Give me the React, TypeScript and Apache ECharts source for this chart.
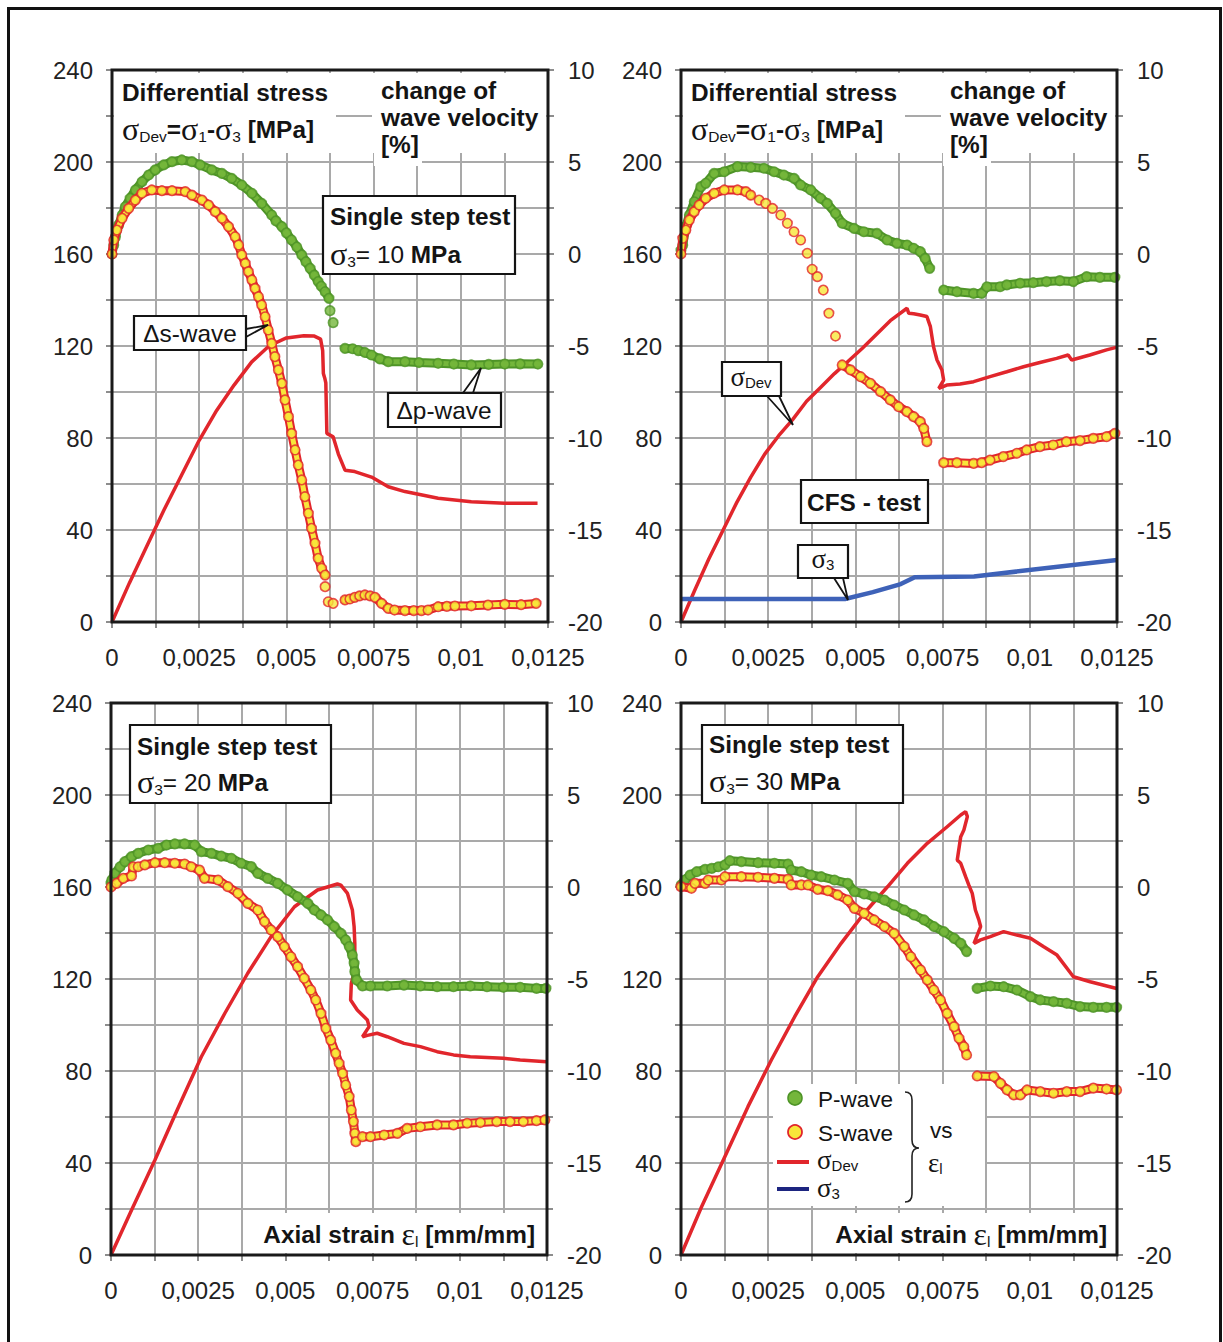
import React, { useEffect, useRef } from 'react';
import * as echarts from 'echarts';

// ---------- tick labels ----------
const xTickLabels = ['0', '0,0025', '0,005', '0,0075', '0,01', '0,0125'];
const leftTickLabels = ['0', '40', '80', '120', '160', '200', '240'];
const rightTickLabels = ['-20', '-15', '-10', '-5', '0', '5', '10'];

// ---------- Panel 1 : single step test, sigma3 = 10 MPa ----------
const sigDev1 = [[0,0],[0.0005,17],[0.001,33],[0.0015,49],[0.002,64],[0.0025,79],[0.003,92],[0.0035,103],[0.004,113],[0.0045,120],[0.005,123.5],[0.0055,124.5],[0.0058,124.3],[0.00598,123],[0.00604,118],[0.00606,108],[0.0061,106],[0.00613,104],[0.00616,82],[0.00634,80.5],[0.00649,73],[0.00668,66],[0.00696,65.4],[0.00744,63],[0.00792,58.8],[0.0084,56.7],[0.00935,53.8],[0.0103,52.3],[0.01126,51.6],[0.0122,51.6]];
const pWave1A = [[0,0],[0.00005,0.49],[0.0001,0.94],[0.00019,1.58],[0.00029,2.12],[0.00038,2.57],[0.00052,3.03],[0.00067,3.48],[0.00086,3.93],[0.00105,4.29],[0.00124,4.57],[0.00148,4.84],[0.00172,5.02],[0.002,5.11],[0.00229,5.02],[0.00253,4.84],[0.00286,4.57],[0.00315,4.38],[0.00343,4.11],[0.00372,3.75],[0.00401,3.3],[0.00429,2.75],[0.00458,2.12],[0.0047,1.8],[0.00487,1.49],[0.005,1.15],[0.00515,0.76],[0.0053,0.38],[0.00544,-0.05],[0.00556,-0.42],[0.00568,-0.78],[0.0058,-1.15],[0.00591,-1.5],[0.006,-1.75],[0.00611,-2.05],[0.00622,-2.41]];
const pWave1Iso = [[0.00625,-3.08],[0.00634,-3.73]];
const pWave1B = [[0.00668,-5.13],[0.0069,-5.15],[0.00706,-5.25],[0.00725,-5.35],[0.00744,-5.49],[0.00768,-5.7],[0.00792,-5.85],[0.0084,-5.85],[0.0088,-5.9],[0.00935,-5.94],[0.0098,-5.98],[0.0103,-6.03],[0.0108,-6.0],[0.01126,-5.98],[0.0117,-5.97],[0.01221,-5.98]];
const sWave1A = [[0,0],[0.00005,0.76],[0.00014,1.3],[0.00029,1.94],[0.00048,2.48],[0.00067,2.93],[0.00086,3.3],[0.00114,3.48],[0.00143,3.44],[0.00172,3.44],[0.0021,3.39],[0.00229,3.2],[0.00258,2.93],[0.00277,2.66],[0.00296,2.3],[0.00315,1.94],[0.00334,1.49],[0.00353,0.94],[0.00363,0.49],[0.00372,-0.05],[0.00382,-0.51],[0.00391,-0.96],[0.00401,-1.41],[0.0041,-1.87],[0.0042,-2.32],[0.00429,-2.77],[0.00439,-3.41],[0.00448,-4.13],[0.00458,-4.86],[0.00467,-5.58],[0.00477,-6.3],[0.00487,-7.03],[0.00496,-7.93],[0.00506,-8.84],[0.00515,-9.75],[0.00525,-10.65],[0.00534,-11.47],[0.00544,-12.28],[0.00553,-13.19],[0.00563,-14.09],[0.00572,-14.91],[0.00582,-15.72],[0.00591,-16.54],[0.00601,-17.08],[0.00611,-17.45]];
const sWave1Iso = [[0.00611,-18.08],[0.0062,-18.9],[0.00634,-18.99]];
const sWave1B = [[0.00668,-18.8],[0.00682,-18.75],[0.00696,-18.66],[0.0071,-18.58],[0.00725,-18.53],[0.0074,-18.58],[0.00754,-18.66],[0.00773,-18.99],[0.00792,-19.26],[0.0081,-19.35],[0.0084,-19.38],[0.00865,-19.38],[0.00887,-19.38],[0.00906,-19.35],[0.00935,-19.17],[0.0096,-19.15],[0.00983,-19.13],[0.0103,-19.12],[0.01078,-19.08],[0.01126,-19.04],[0.01173,-19.06],[0.01216,-18.99]];

// ---------- Panel 2 : CFS test ----------
const sigDev2 = [[0,0],[0.0004,14],[0.0008,27.5],[0.00124,41],[0.0016,52],[0.002,63],[0.0024,73],[0.0028,81],[0.0032,88],[0.0036,96],[0.004,102],[0.0044,108],[0.0048,113.5],[0.0052,119],[0.0056,125],[0.006,131],[0.00648,136.4],[0.00653,134.2],[0.00667,134],[0.00686,133.5],[0.00705,132.8],[0.00715,128.4],[0.00724,119.7],[0.00734,113.9],[0.00748,109.6],[0.00753,105.2],[0.00739,101.6],[0.00762,103],[0.008,103.5],[0.00839,104.5],[0.00886,106.7],[0.00934,108.8],[0.00982,111],[0.01029,112.8],[0.01077,114.6],[0.0111,116.1],[0.0112,113.9],[0.01172,116.1],[0.0122,118.3],[0.01248,119.4]];
const sig3_2 = [[0,10],[0.0047,10],[0.0055,13],[0.0063,16.5],[0.0067,19.5],[0.0084,19.8],[0.0125,27]];
const pWave2A = [[0,0.2],[0.00005,0.49],[0.00014,1.5],[0.00024,2.12],[0.00038,2.84],[0.00057,3.66],[0.00071,3.84],[0.00095,4.38],[0.00124,4.47],[0.00162,4.75],[0.002,4.71],[0.00238,4.66],[0.00267,4.47],[0.00295,4.29],[0.00324,4.11],[0.00343,3.75],[0.00372,3.48],[0.004,3.03],[0.00419,2.75],[0.00443,2.21],[0.00462,1.67],[0.00496,1.39],[0.00524,1.21],[0.00562,1.12],[0.00591,0.76],[0.00619,0.58],[0.00648,0.49],[0.00667,0.31],[0.00686,0.13],[0.007,-0.24],[0.00713,-0.78]];
const pWave2B = [[0.00753,-1.96],[0.00791,-2.05],[0.00839,-2.14],[0.00862,-2.14],[0.00877,-1.78],[0.00915,-1.78],[0.00934,-1.68],[0.00972,-1.59],[0.0101,-1.56],[0.01048,-1.5],[0.01086,-1.45],[0.01125,-1.5],[0.01163,-1.23],[0.01201,-1.27],[0.01244,-1.27]];
const sWave2A = [[0,0],[0.00005,0.85],[0.00014,1.3],[0.00024,1.85],[0.00038,2.3],[0.00052,2.66],[0.00071,3.03],[0.00095,3.3],[0.00124,3.48],[0.00162,3.48],[0.00186,3.39],[0.002,3.2]];
const sWave2Dots = [[0.00224,2.93],[0.00243,2.75],[0.00262,2.48],[0.00286,2.12],[0.00305,1.67],[0.00324,1.21],[0.00343,0.76],[0.00362,0.04],[0.00376,-0.83],[0.00391,-1.23],[0.00408,-1.96],[0.00424,-3.22],[0.00443,-4.46]];
const sWave2B = [[0.00462,-6.03],[0.00486,-6.3],[0.00515,-6.67],[0.00543,-7.03],[0.00572,-7.48],[0.006,-7.93],[0.00624,-8.3],[0.00648,-8.57],[0.00667,-8.84],[0.00686,-9.11],[0.00696,-9.48],[0.00705,-10.2]];
const sWave2C = [[0.00753,-11.34],[0.00791,-11.34],[0.00839,-11.38],[0.00862,-11.34],[0.00886,-11.2],[0.00924,-11.01],[0.00963,-10.83],[0.00991,-10.65],[0.01029,-10.47],[0.01067,-10.38],[0.01105,-10.2],[0.01144,-10.14],[0.01182,-10.02],[0.0122,-9.93],[0.01244,-9.75]];

// ---------- Panel 3 : single step test, sigma3 = 20 MPa ----------
const sigDev3 = [[0,0],[0.00059,19.6],[0.00126,41.3],[0.00192,63.8],[0.00259,86.2],[0.00326,105],[0.00392,122.5],[0.00459,138.4],[0.00526,151.4],[0.00592,158.7],[0.00649,161.3],[0.00659,160.8],[0.00678,157.2],[0.00692,150],[0.00697,142.8],[0.00699,135.5],[0.00699,123.9],[0.00689,118.1],[0.00687,110.9],[0.00706,106.5],[0.00735,102.2],[0.0074,99.3],[0.00721,94.9],[0.00735,95.5],[0.00763,96.4],[0.00792,94.9],[0.0084,92],[0.00887,90.6],[0.00935,88.4],[0.00982,87],[0.0103,86.2],[0.01078,85.9],[0.01125,85.5],[0.01173,84.8],[0.01249,84]];
const pWave3 = [[0,0.2],[0.00002,0.38],[0.00011,0.74],[0.00026,1.1],[0.0004,1.38],[0.00059,1.65],[0.00078,1.83],[0.00107,2.01],[0.00135,2.1],[0.00159,2.28],[0.00183,2.34],[0.00211,2.34],[0.0024,2.28],[0.00259,1.92],[0.00288,1.83],[0.00316,1.68],[0.00345,1.56],[0.00373,1.29],[0.00402,1.11],[0.00421,0.74],[0.00449,0.47],[0.00478,0.2],[0.00506,-0.16],[0.00535,-0.53],[0.00564,-0.89],[0.00583,-1.25],[0.00602,-1.52],[0.00621,-1.79],[0.0064,-2.15],[0.00659,-2.52],[0.00673,-2.88],[0.00683,-3.24],[0.00692,-3.7],[0.00697,-4.15],[0.00699,-4.6],[0.00704,-5.05],[0.00721,-5.38],[0.00744,-5.38],[0.00792,-5.38],[0.0084,-5.33],[0.00887,-5.38],[0.00935,-5.42],[0.00982,-5.42],[0.0103,-5.38],[0.01078,-5.42],[0.01125,-5.45],[0.01173,-5.45],[0.0122,-5.51],[0.01247,-5.51]];
const sWave3A = [[0,0],[0.00016,0.2],[0.00035,0.47],[0.00059,0.6],[0.00064,1.1],[0.00078,1.1],[0.00097,1.2],[0.00126,1.32],[0.00154,1.32],[0.00183,1.29],[0.00211,1.25],[0.0023,1.1],[0.00254,0.92],[0.00268,0.47],[0.00307,0.38],[0.00335,0.02],[0.00364,-0.34],[0.00392,-0.89],[0.00421,-1.25],[0.0044,-1.88],[0.00459,-2.34],[0.00478,-2.7],[0.00497,-3.24],[0.00516,-3.79],[0.00535,-4.33],[0.00554,-4.96],[0.00573,-5.6],[0.00587,-6.14],[0.00602,-6.87],[0.00616,-7.68],[0.0063,-8.32],[0.00644,-9.04],[0.00654,-9.58],[0.00664,-10.13],[0.00673,-10.76],[0.00683,-11.39],[0.00689,-12.12],[0.00695,-12.75],[0.00699,-13.39],[0.00702,-13.84]];
const sWave3B = [[0.00721,-13.57],[0.00744,-13.57],[0.00783,-13.48],[0.00821,-13.39],[0.00849,-13.12],[0.00887,-13.03],[0.00935,-12.93],[0.00982,-12.93],[0.01021,-12.84],[0.01059,-12.8],[0.01106,-12.75],[0.01144,-12.75],[0.01182,-12.75],[0.0122,-12.7],[0.01244,-12.66]];

// ---------- Panel 4 : single step test, sigma3 = 30 MPa ----------
const sigDev4 = [[0,0],[0.00059,21],[0.00126,42.8],[0.00192,64.5],[0.00259,84.8],[0.00326,103.6],[0.00392,121],[0.00459,135.5],[0.00525,148.6],[0.00592,160.1],[0.00649,170.3],[0.00706,179],[0.00763,186.2],[0.00802,191.3],[0.00816,192.8],[0.00821,190.6],[0.00811,184.8],[0.00802,181.9],[0.00792,171.7],[0.00802,170.3],[0.00816,164.5],[0.00825,160.9],[0.00835,157.2],[0.00844,150],[0.00854,145.7],[0.00859,142.8],[0.0084,135.5],[0.00859,137],[0.00887,138.4],[0.00925,140.6],[0.00963,139.1],[0.01002,137.7],[0.0104,134],[0.01078,130.4],[0.01125,121],[0.01173,118.8],[0.01249,115.9]];
const pWave4A = [[0,0.1],[0.00011,0.38],[0.00026,0.65],[0.00045,0.83],[0.00069,0.96],[0.00088,1.01],[0.00107,1.1],[0.00126,1.2],[0.0014,1.43],[0.00173,1.38],[0.00221,1.32],[0.00268,1.29],[0.00307,1.25],[0.00316,0.92],[0.00345,0.83],[0.00373,0.65],[0.00402,0.56],[0.0044,0.38],[0.00478,0.2],[0.00497,-0.25],[0.00525,-0.38],[0.00554,-0.53],[0.00583,-0.71],[0.00611,-0.98],[0.0064,-1.25],[0.00668,-1.52],[0.00697,-1.79],[0.00725,-2.15],[0.00754,-2.43],[0.00783,-2.79],[0.00802,-3.06],[0.00819,-3.51]];
const pWave4B = [[0.00849,-5.51],[0.00887,-5.38],[0.00925,-5.42],[0.00963,-5.6],[0.01002,-5.96],[0.0103,-6.14],[0.01068,-6.23],[0.01106,-6.32],[0.01144,-6.5],[0.01182,-6.54],[0.0122,-6.54],[0.01249,-6.54]];
const sWave4A = [[0,0.02],[0.0003,-0.07],[0.0004,0.2],[0.00069,0.2],[0.00078,0.38],[0.00116,0.38],[0.00126,0.56],[0.00173,0.56],[0.00221,0.53],[0.00268,0.47],[0.00307,0.42],[0.00316,0.11],[0.00345,0.11],[0.00364,0.11],[0.00392,-0.13],[0.00421,-0.2],[0.00449,-0.43],[0.00478,-0.71],[0.00497,-1.16],[0.00525,-1.43],[0.00554,-1.79],[0.00583,-2.15],[0.00611,-2.52],[0.0064,-3.24],[0.00659,-3.79],[0.00687,-4.51],[0.00706,-5.05],[0.00725,-5.6],[0.00744,-6.14],[0.00763,-6.87],[0.00783,-7.59],[0.00797,-8.22],[0.00811,-8.68],[0.00819,-9.13]];
const sWave4B = [[0.00849,-10.27],[0.00897,-10.3],[0.00916,-10.67],[0.00935,-11.03],[0.00954,-11.3],[0.00973,-11.3],[0.00992,-11.03],[0.0103,-11.12],[0.01068,-11.21],[0.01106,-11.12],[0.01144,-11.12],[0.01182,-10.93],[0.0122,-10.98],[0.01249,-11.03]];

// ---------- styling ----------
const SANS = '"Liberation Sans", Arial, Helvetica, sans-serif';
const SERIF = '"Liberation Serif", "DejaVu Serif", serif';
const GREEN = '#74b63b';
const GREEN_D = '#4e9427';
const YELLOW = '#f8e63a';
const RED = '#e1262c';
const BLUE = '#3e62b8';
const NAVY = '#1d2580';
const INK = '#141414';
const FS = 24.4;
const GRID_W = 436;
const GRID_H = 552;
const PANELS = [
  { left: 112, top: 70 },
  { left: 681, top: 70 },
  { left: 111, top: 703 },
  { left: 681, top: 703 },
];

const RICH = {
  b: { fontFamily: SANS, fontSize: FS, fontWeight: 'bold', fill: INK, lineHeight: 30 },
  r: { fontFamily: SANS, fontSize: FS, fill: INK, lineHeight: 30 },
  g: { fontFamily: SERIF, fontSize: 32, fill: INK, lineHeight: 30 },
  sub: { fontFamily: SANS, fontSize: 15.5, fill: INK, lineHeight: 15, verticalAlign: 'bottom' },
};
const RICH_LEG = {
  g: { fontFamily: SERIF, fontSize: 27, fill: INK, lineHeight: 26 },
  sub: { fontFamily: SANS, fontSize: 15, fill: INK, lineHeight: 7, verticalAlign: 'bottom' },
};

function txt(x: number, y: number, text: string, o: any = {}) {
  const align = o.align || 'left';
  return {
    type: 'text', x, y, z: 120,
    style: {
      text, fill: INK, fontFamily: SANS, fontSize: o.size || FS,
      fontWeight: o.bold ? 'bold' : 'normal',
      align, textAlign: align, verticalAlign: 'middle', textVerticalAlign: 'middle',
      rich: o.rich || RICH,
    },
  };
}
function box(x: number, y: number, w: number, h: number, stroke = true) {
  return {
    type: 'rect', z: 110, shape: { x, y, width: w, height: h },
    style: { fill: '#fff', stroke: stroke ? INK : 'none', lineWidth: stroke ? 2.2 : 0 },
  };
}
function tail(points: number[][]) {
  return { type: 'polyline', z: 111, shape: { points }, style: { stroke: INK, lineWidth: 1.8, fill: 'none' } };
}

// band = overlapping markers drawn as a two-tone stroke, plus the markers on top
function waveSeries(data: number[][], i: number, kind: 'p' | 's', mode: 'band' | 'dots') {
  const fill = kind === 'p' ? GREEN : YELLOW;
  const border = kind === 'p' ? GREEN_D : RED;
  const common = { data, xAxisIndex: i, yAxisIndex: 2 * i + 1, silent: true };
  const zb = kind === 'p' ? 4 : 6;
  const dots = {
    ...common, type: 'scatter', symbol: 'circle', symbolSize: 9.5, z: zb + 1,
    itemStyle: { color: fill, borderColor: border, borderWidth: 1.6 },
  };
  if (mode === 'dots') return [dots];
  const lineBase = { ...common, type: 'line', symbol: 'none', showSymbol: false, z: zb };
  return [
    { ...lineBase, lineStyle: { color: border, width: 9, cap: 'round', join: 'round' } },
    { ...lineBase, lineStyle: { color: fill, width: 5, cap: 'round', join: 'round' } },
    dots,
  ];
}
function stressSeries(data: number[][], i: number, color: string, width = 3.5) {
  return { type: 'line', data, xAxisIndex: i, yAxisIndex: 2 * i, symbol: 'none', showSymbol: false, z: 3, silent: true, lineStyle: { color, width } };
}

function buildOption() {
  const xFmt = (v: number) => {
    const k = Math.round(v / 0.00125);
    return k % 2 === 0 ? xTickLabels[k / 2] : '';
  };
  const lFmt = (v: number) => (Math.round(v) % 40 === 0 ? leftTickLabels[Math.round(v) / 40] : '');
  const rFmt = (v: number) => {
    const k = (v + 20) / 5;
    return Math.abs(k - Math.round(k)) < 1e-6 ? rightTickLabels[Math.round(k)] : '';
  };
  const labelStyle = { fontFamily: SANS, fontSize: 24, color: '#222' };
  const tick = { show: true, length: 6, lineStyle: { color: '#8d8d8d', width: 2 } };
  const split = { show: true, lineStyle: { color: '#a9a9a9', width: 2 } };

  const grid = PANELS.map((p) => ({ left: p.left, top: p.top, width: GRID_W, height: GRID_H, show: false }));
  const xAxis = PANELS.map((_, i) => ({
    type: 'value', gridIndex: i, min: 0, max: 0.0125, interval: 0.00125,
    axisLine: { show: false }, axisTick: tick, splitLine: split,
    axisLabel: { ...labelStyle, margin: 23, formatter: xFmt },
  }));
  const yAxis: any[] = [];
  PANELS.forEach((_, i) => {
    yAxis.push({
      type: 'value', gridIndex: i, position: 'left', min: 0, max: 240, interval: 20,
      axisLine: { show: false }, axisTick: tick, splitLine: split,
      axisLabel: { ...labelStyle, margin: 19, formatter: lFmt },
    });
    yAxis.push({
      type: 'value', gridIndex: i, position: 'right', min: -20, max: 10, interval: 2.5,
      axisLine: { show: false }, axisTick: tick, splitLine: { show: false },
      axisLabel: { ...labelStyle, margin: 20, formatter: rFmt },
    });
  });

  const series: any[] = [
    stressSeries(sigDev1, 0, RED),
    ...waveSeries(pWave1A, 0, 'p', 'band'), ...waveSeries(pWave1Iso, 0, 'p', 'dots'), ...waveSeries(pWave1B, 0, 'p', 'band'),
    ...waveSeries(sWave1A, 0, 's', 'band'), ...waveSeries(sWave1Iso, 0, 's', 'dots'), ...waveSeries(sWave1B, 0, 's', 'band'),

    stressSeries(sigDev2, 1, RED), stressSeries(sig3_2, 1, BLUE, 4.5),
    ...waveSeries(pWave2A, 1, 'p', 'band'), ...waveSeries(pWave2B, 1, 'p', 'band'),
    ...waveSeries(sWave2A, 1, 's', 'band'), ...waveSeries(sWave2Dots, 1, 's', 'dots'),
    ...waveSeries(sWave2B, 1, 's', 'band'), ...waveSeries(sWave2C, 1, 's', 'band'),

    stressSeries(sigDev3, 2, RED),
    ...waveSeries(pWave3, 2, 'p', 'band'),
    ...waveSeries(sWave3A, 2, 's', 'band'), ...waveSeries(sWave3B, 2, 's', 'band'),

    stressSeries(sigDev4, 3, RED),
    ...waveSeries(pWave4A, 3, 'p', 'band'), ...waveSeries(pWave4B, 3, 'p', 'band'),
    ...waveSeries(sWave4A, 3, 's', 'band'), ...waveSeries(sWave4B, 3, 's', 'band'),
  ];

  const g: any[] = [];
  // header blocks on top panels
  [PANELS[0], PANELS[1]].forEach((p) => {
    const L = p.left;
    g.push(box(L + 2, 73, 222, 80, false));
    g.push(box(L + 260, 73, 174, 80, false));
    g.push(box(L + 262, 128, 48, 38, false));
    g.push(txt(L + 10, 92, 'Differential stress', { bold: true }));
    g.push(txt(L + 10, 129, '{g|σ}{sub|Dev}{b|=}{g|σ}{sub|1}{b|-}{g|σ}{sub|3}{b| [MPa]}'));
    g.push(txt(L + 269, 90, 'change of', { bold: true }));
    g.push(txt(L + 269, 117, 'wave velocity', { bold: true }));
    g.push(txt(L + 269, 144, '[%]', { bold: true }));
  });
  // panel 1 boxes
  g.push(box(323, 196, 192, 78));
  g.push(txt(330, 216, 'Single step test', { bold: true }));
  g.push(txt(330, 254, '{g|σ}{sub|3}{r|= 10 }{b|MPa}'));
  g.push(box(134, 316, 112, 34));
  g.push(txt(190, 333, 'Δs-wave', { align: 'center' }));
  g.push(tail([[246, 329], [268, 325], [246, 337]]));
  g.push(box(388, 393, 113, 34));
  g.push(txt(444, 410, 'Δp-wave', { align: 'center' }));
  g.push(tail([[463, 393], [481, 368], [473, 393]]));
  // panel 2 boxes
  g.push(box(722, 362, 59, 34));
  g.push(txt(751, 377, '{g|σ}{sub|Dev}', { align: 'center', rich: RICH_LEG }));
  g.push(tail([[767, 396], [793, 425], [779, 396]]));
  g.push(box(801, 480, 127, 43));
  g.push(txt(864, 502, 'CFS - test', { bold: true, align: 'center' }));
  g.push(box(798, 545, 50, 33));
  g.push(txt(823, 559, '{g|σ}{sub|3}', { align: 'center', rich: RICH_LEG }));
  g.push(tail([[834, 578], [848, 600], [843, 578]]));
  // panel 3 & 4 boxes
  g.push(box(130, 725, 201, 78));
  g.push(txt(137, 746, 'Single step test', { bold: true }));
  g.push(txt(137, 782, '{g|σ}{sub|3}{r|= 20 }{b|MPa}'));
  g.push(box(702, 725, 201, 78));
  g.push(txt(709, 744, 'Single step test', { bold: true }));
  g.push(txt(709, 781, '{g|σ}{sub|3}{r|= 30 }{b|MPa}'));
  // axis titles inside bottom panels
  g.push(box(258, 1213, 288, 40, false));
  g.push(txt(535, 1234, '{b|Axial strain }{g|ε}{sub|l}{b| [mm/mm]}', { align: 'right' }));
  g.push(box(830, 1213, 285, 40, false));
  g.push(txt(1107, 1234, '{b|Axial strain }{g|ε}{sub|l}{b| [mm/mm]}', { align: 'right' }));
  // legend (panel 4)
  g.push(box(773, 1084, 212, 122, false));
  g.push({ type: 'circle', z: 121, shape: { cx: 795, cy: 1098, r: 7 }, style: { fill: GREEN, stroke: GREEN_D, lineWidth: 1.6 } });
  g.push(txt(818, 1099, 'P-wave', { size: 22.5 }));
  g.push({ type: 'circle', z: 121, shape: { cx: 795, cy: 1132, r: 7 }, style: { fill: YELLOW, stroke: RED, lineWidth: 1.8 } });
  g.push(txt(818, 1133, 'S-wave', { size: 22.5 }));
  g.push({ type: 'line', z: 121, shape: { x1: 777, y1: 1162, x2: 809, y2: 1162 }, style: { stroke: RED, lineWidth: 4 } });
  g.push(txt(817, 1160, '{g|σ}{sub|Dev}', { rich: RICH_LEG }));
  g.push({ type: 'line', z: 121, shape: { x1: 777, y1: 1189, x2: 809, y2: 1189 }, style: { stroke: NAVY, lineWidth: 4 } });
  g.push(txt(817, 1188, '{g|σ}{sub|3}', { rich: RICH_LEG }));
  g.push({ type: 'brace', z: 121, x: 905, y: 1092, style: { stroke: '#222', fill: 'none', lineWidth: 1.6 } });
  g.push(txt(930, 1130, 'vs', { size: 22.5 }));
  g.push(txt(928, 1163, '{g|ε}{sub|l}', { rich: RICH_LEG }));
  // plot frames
  PANELS.forEach((p) => {
    g.push({ type: 'rect', z: 130, shape: { x: p.left, y: p.top, width: GRID_W, height: GRID_H }, style: { fill: 'none', stroke: '#1a1a1a', lineWidth: 3 } });
  });
  // outer frame
  g.push({ type: 'rect', z: 140, shape: { x: 8.5, y: 8.5, width: 1212, height: 1345 }, style: { fill: 'none', stroke: '#111', lineWidth: 3 } });

  return {
    animation: false,
    backgroundColor: '#ffffff',
    grid, xAxis, yAxis, series,
    graphic: { elements: g },
  };
}

let braceRegistered = false;
function registerBrace() {
  if (braceRegistered) return;
  const d = 'M0,0 Q7,0 7,8 L7,48 Q7,56 14,56 Q7,56 7,64 L7,102 Q7,110 0,110';
  echarts.graphic.registerShape('brace', echarts.graphic.extendPath(d, {}));
  braceRegistered = true;
}

export default function App() {
  const ref = useRef<HTMLDivElement>(null);
  useEffect(() => {
    if (!ref.current) return;
    registerBrace();
    const chart = echarts.init(ref.current, null, { renderer: 'svg' });
    chart.setOption(buildOption() as any);
    return () => chart.dispose();
  }, []);
  return (
    <div
      ref={ref}
      style={{ position: 'absolute', left: 0, top: 0, width: 1223, height: 1342, background: '#fff' }}
    />
  );
}
